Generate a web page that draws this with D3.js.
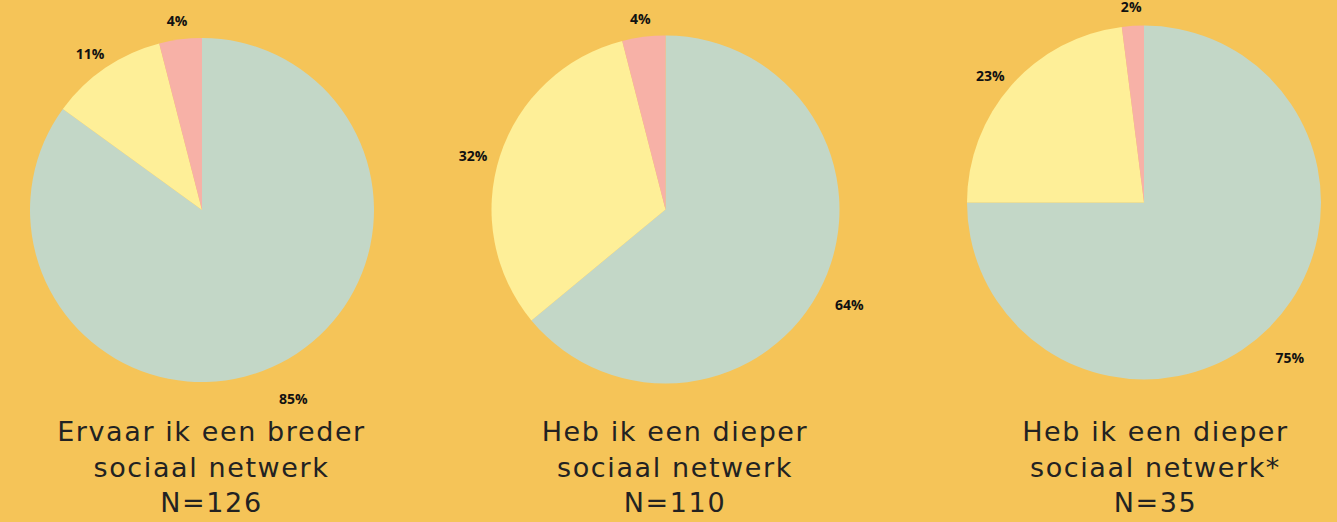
<!DOCTYPE html>
<html>
<head>
<meta charset="utf-8">
<script src="https://cdn.jsdelivr.net/npm/d3@7"></script>
<style>
  html, body { margin: 0; padding: 0; background: #F5C458; }
  svg { display: block; }
</style>
</head>
<body>
<div id="pies"></div>
<script>
// Data
const panels = ["breder", "dieper", "dieperStar"];
const titleLines = [
  ["Ervaar ik een breder", "sociaal netwerk", "N=126"],
  ["Heb ik een dieper", "sociaal netwerk", "N=110"],
  ["Heb ik een dieper", "sociaal netwerk*", "N=35"]
];
const answers = ["ja", "neutraal", "nee"];
const percentages = [
  [85, 11, 4],
  [64, 32, 4],
  [75, 23, 2]
];

// Layout
const width = 1337;
const height = 522;
const pieX = d3.scaleOrdinal().domain(panels).range([202, 665.5, 1144]);
const pieY = d3.scaleOrdinal().domain(panels).range([210, 209.5, 202.5]);
const pieR = d3.scaleOrdinal().domain(panels).range([172, 174, 177]);
const titleX = d3.scaleOrdinal().domain(panels).range([211.5, 675, 1155.5]);
const titleBaseline = d3.scaleLinear().domain([0, 2]).range([441, 512]);

const colorScale = d3.scaleOrdinal()
  .domain(answers)
  .range(["#C3D7C7", "#FEEF98", "#F7B1A7"]);

const pieGenerator = d3.pie()
  .sort(null)
  .value(d => d.value);

const svg = d3.select("#pies")
  .append("svg")
    .attr("width", width)
    .attr("height", height)
    .attr("viewBox", `0 0 ${width} ${height}`);

svg.append("rect")
  .attr("width", width)
  .attr("height", height)
  .attr("fill", "#F5C458");

panels.forEach((key, i) => {
  const r = pieR(key);
  const slices = pieGenerator(answers.map((a, j) => ({ answer: a, value: percentages[i][j] })));
  const arc = d3.arc().innerRadius(0).outerRadius(r);

  const g = svg.append("g")
    .attr("transform", `translate(${pieX(key)}, ${pieY(key)})`);

  g.selectAll("path")
    .data(slices)
    .join("path")
      .attr("d", arc)
      .attr("fill", d => colorScale(d.data.answer));

  // labels sit further out the lower they are on the circle
  g.selectAll("text")
    .data(slices)
    .join("text")
      .attr("transform", d => {
        let a = (d.startAngle + d.endAngle) / 2;
        a += 0.044 * Math.sin(a);
        const lr = r + 18.5 + 10 * (1 - Math.cos(a));
        return `translate(${lr * Math.sin(a)}, ${-lr * Math.cos(a)})`;
      })
      .attr("text-anchor", "middle")
      .attr("dy", "0.36em")
      .style("font-family", "'Open Sans', sans-serif")
      .style("font-size", "14px")
      .style("font-weight", 700)
      .attr("fill", "#111")
      .text(d => `${d.data.value}%`);

  svg.append("text")
    .attr("x", titleX(key))
    .attr("text-anchor", "middle")
    .style("font-family", "'DejaVu Sans', sans-serif")
    .style("font-size", "27px")
    .style("letter-spacing", "1.6px")
    .attr("fill", "#222")
    .selectAll("tspan")
    .data(titleLines[i])
    .join("tspan")
      .attr("x", titleX(key))
      .attr("y", (d, k) => titleBaseline(k))
      .text(d => d);
});
</script>
</body>
</html>
